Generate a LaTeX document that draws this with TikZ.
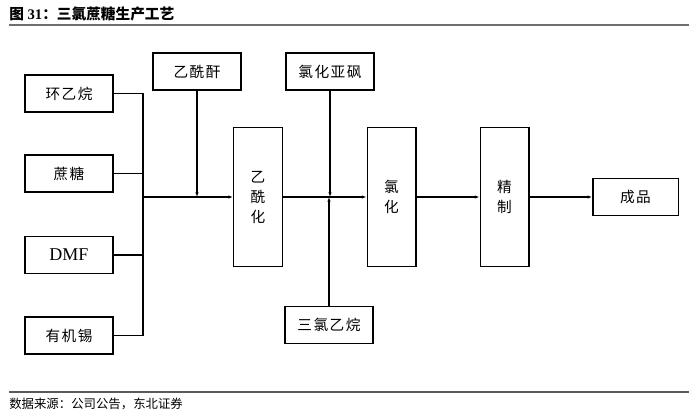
\documentclass[tikz,border=0pt]{standalone}
\usepackage{fontspec}
\setmainfont{Liberation Serif}
\newfontfamily\cjk{Noto Sans CJK SC}
\newfontfamily\cjkwide[LetterSpace=10]{Noto Sans CJK SC}
\usetikzlibrary{arrows.meta}

\begin{document}
\begin{tikzpicture}[x=0.75pt,y=0.75pt,yscale=-1,xscale=1,
  box/.style={draw, line width=1pt, inner sep=0pt, minimum width=66pt, minimum height=27.75pt, font=\cjkwide\fontsize{11}{12}\selectfont},
  tallbox/.style={draw, line width=1pt, inner sep=0pt, minimum width=36.5pt, minimum height=104pt, align=center, font=\cjk\fontsize{11}{15}\selectfont},
  link/.style={line width=1pt},
  flow/.style={line width=1pt, -{Latex[length=3.5pt,width=2.6pt]}}]

\useasboundingbox (0,0) rectangle (700,414);

% Title
\node [anchor=west, inner sep=0pt] (title) at (9,14) {\fontsize{11}{12}\selectfont\textbf{{\cjk 图}\ 31{\cjk ：三氯蔗糖生产工艺}}};
\draw [color={rgb, 255:red, 110; green, 110; blue, 110 }, line width=1.2pt] (9,25) -- (689,25) ;

% Left inputs
\node [box] (hyw) at (69,93.5) {环乙烷};
\node [box] (zt) at (69,173.5) {蔗糖};
\node [box, font=\fontsize{13.5}{14}\selectfont] (dmf) at (69,255) {DMF};
\node [box] (yjx) at (69,335.5) {有机锡};

% Process
\node [box] (yxg) at (197,71.5) {乙酰酐};
\node [tallbox] (yxh) at (258,197) {乙\\酰\\化};
\node [box] (lhyf) at (330,71.5) {氯化亚砜};
\node [box] (slyw) at (329,325) {三氯乙烷};
\node [tallbox] (lh) at (391.5,197) {氯\\化};
\node [tallbox] (jz) at (504.5,197) {精\\制};
\node [box, minimum width=64pt] (cp) at (635.5,197) {成品};

% Bus
\coordinate (bus) at (143,197);
\draw [link] (hyw.east) -| (bus |- hyw.east) -- (bus |- yjx.east) -- (yjx.east) ;
\draw [link] (zt.east) -- (bus |- zt.east) ;
\draw [link] (dmf.east) -- (bus |- dmf.east) ;
\draw [flow] (bus) -- (yxh.west) ;
\draw [flow] (yxg.south) -- (yxg.south |- bus) ;

% Chlorination
\draw [flow] (yxh.east) -- (lh.west) ;
\draw [flow] (lhyf.south) -- (lhyf.south |- lh.west) ;
\draw [flow] (slyw.north) -- (slyw.north |- lh.west) ;
\draw [flow] (lh.east) -- (jz.west) ;
\draw [flow] (jz.east) -- (cp.west) ;

% Source
\draw [color={rgb, 255:red, 90; green, 90; blue, 90 }, line width=1.2pt] (9,392) -- (689,392) ;
\node [anchor=west, inner sep=0pt] (src) at (9,404) {\cjk\fontsize{9.3}{10}\selectfont 数据来源：公司公告，东北证券};
\end{tikzpicture}
\end{document}
